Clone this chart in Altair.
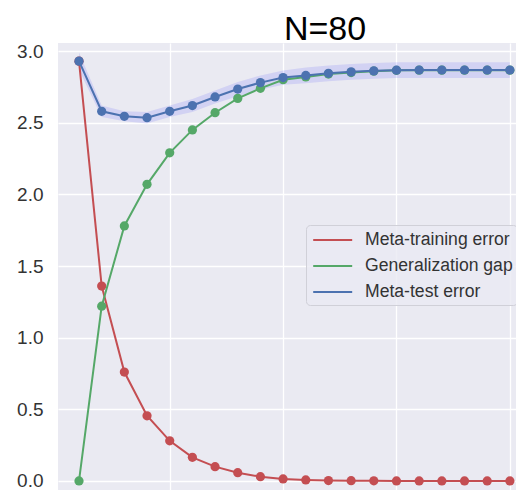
import altair as alt
import pandas as pd

steps = list(range(1, 21))
train_err = [2.93, 1.36, 0.76, 0.455, 0.28, 0.165, 0.10, 0.058, 0.03, 0.014,
             0.007, 0.003, 0.002, 0.001, 0.0, 0.0, 0.0, 0.0, 0.0, 0.0]
gen_gap = [0.0, 1.22, 1.78, 2.07, 2.29, 2.45, 2.57, 2.67, 2.74, 2.80,
           2.82, 2.84, 2.85, 2.86, 2.866, 2.867, 2.867, 2.867, 2.867, 2.867]
test_err = [2.93, 2.58, 2.545, 2.535, 2.58, 2.62, 2.68, 2.735, 2.78, 2.815,
            2.83, 2.845, 2.855, 2.862, 2.867, 2.868, 2.868, 2.868, 2.868, 2.868]
test_band = [0.06, 0.04, 0.035, 0.04, 0.04, 0.045, 0.045, 0.05, 0.05, 0.05,
             0.055, 0.055, 0.055, 0.055, 0.055, 0.055, 0.055, 0.055, 0.055, 0.055]

series_names = ["Meta-training error", "Generalization gap", "Meta-test error"]
series_colors = ["#C44E52", "#55A868", "#4C72B0"]
y_ticks = [0.0, 0.5, 1.0, 1.5, 2.0, 2.5, 3.0]
x_grid = [5, 10, 15, 20]
title_text = ["N=80"]

rows = []
for name, vals in zip(series_names, [train_err, gen_gap, test_err]):
    for s, v in zip(steps, vals):
        rows.append({"step": s, "value": v, "series": name})
df = pd.DataFrame(rows)

band_df = pd.DataFrame({
    "step": steps,
    "lo": [m - b for m, b in zip(test_err, test_band)],
    "hi": [m + b for m, b in zip(test_err, test_band)],
})

xs = alt.Scale(domain=[0.074, 20.27], nice=False, zero=False)
ys = alt.Scale(domain=[-0.063, 3.0565], nice=False, zero=False)
cs = alt.Scale(domain=series_names, range=series_colors)

x_enc = alt.X("step:Q", scale=xs,
              axis=alt.Axis(values=x_grid, labels=False, ticks=False, domain=False,
                            title=None, grid=True, gridColor="white", gridWidth=1.3))
y_enc = alt.Y("value:Q", scale=ys,
              axis=alt.Axis(values=y_ticks, format=".1f", labelFontSize=19,
                            labelColor="#333333", labelFont="Liberation Sans",
                            labelPadding=15, ticks=False, domain=False, title=None,
                            grid=True, gridColor="white", gridWidth=1.3))

band = alt.Chart(band_df).mark_area(color="#0000ff", opacity=0.1, clip=True).encode(
    x=alt.X("step:Q", scale=xs),
    y=alt.Y("lo:Q", scale=ys),
    y2="hi:Q",
)

layers = [band]
for name in series_names:
    base = alt.Chart(df).transform_filter(alt.datum.series == name)
    color = alt.Color("series:N", scale=cs, sort=series_names,
                      legend=alt.Legend(title=None, orient="none", legendX=248, legendY=182,
                                        symbolType="M-0.8,0H3.2", symbolSize=380,
                                        symbolStrokeWidth=2, labelFontSize=17.6,
                                        labelFont="Liberation Sans", labelColor="#333333",
                                        labelOffset=33, rowPadding=6, padding=4,
                                        fillColor="rgba(234,234,242,0.8)",
                                        strokeColor="#d0d0d8", cornerRadius=4))
    layers.append(base.mark_line(strokeWidth=2, clip=True).encode(x=x_enc, y=y_enc, color=color))
    layers.append(base.mark_circle(size=85, opacity=1, clip=True).encode(x=x_enc, y=y_enc, color=color))

title = alt.Chart(pd.DataFrame({"t": title_text})).mark_text(
    fontSize=34, font="Liberation Sans", color="black", align="center",
    baseline="alphabetic", clip=False
).encode(text="t:N", x=alt.value(267), y=alt.value(-3.5))
layers.append(title)

chart = alt.layer(*layers).properties(
    width=458, height=447,
    autosize=alt.AutoSizeParams(type="none"),
    padding={"left": 50, "top": 35, "right": 0, "bottom": 0},
).configure_view(fill="#EAEAF2", stroke=None)

chart.save("out.html", embed_options={"renderer": "svg", "actions": False})
